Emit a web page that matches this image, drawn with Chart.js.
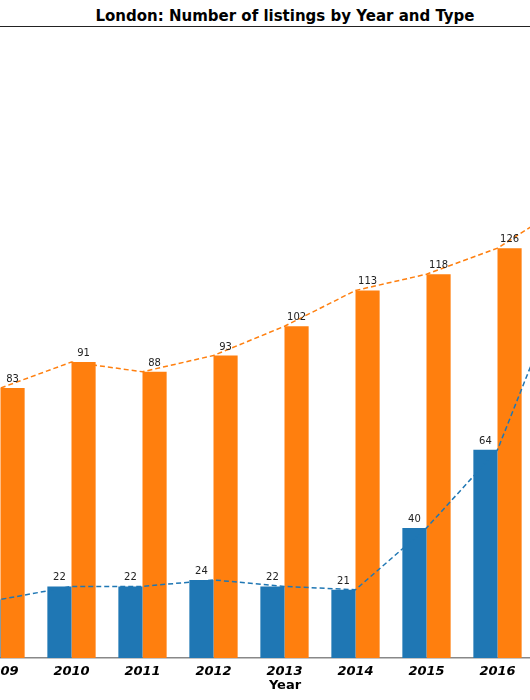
<!DOCTYPE html>
<html><head><script src="https://cdn.jsdelivr.net/npm/chart.js@4"></script>
<style>body{margin:0;width:530px;height:700px;overflow:hidden;position:relative;background:#fff;font-family:"DejaVu Sans"}
#t{position:absolute;top:7px;left:0;width:570px;text-align:center;font-weight:bold;font-size:15px}
#line{position:absolute;top:26px;left:0;width:530px;height:1px;background:#222}
#x{position:absolute;top:677px;left:0;width:570px;text-align:center;font-weight:bold;font-size:13px}
#w{position:absolute;left:-106px;top:27px;width:710px;height:673px}</style></head>
<body><div id="t">London: Number of listings by Year and Type</div><div id="line"></div>
<div id="w"><canvas id="c"></canvas></div><div id="x">Year</div>
<script>
const years=['2008','2009','2010','2011','2012','2013','2014','2015','2016','2017'];
const blue=[17,18,22,22,24,22,21,40,64,119];
const orange=[80,83,91,88,93,102,113,118,126,140];
const B='#1f77b4',O='#ff7f0e';
const lbl={id:'lbl',afterDatasetsDraw(ch){const c=ch.ctx;c.save();c.font='10px DejaVu Sans';c.fillStyle='#222';c.textAlign='center';
[0,1].forEach(i=>{ch.getDatasetMeta(i).data.forEach((e,j)=>{c.fillText(ch.data.datasets[i].data[j],e.x,e.y-6)})});c.restore();}};
new Chart(document.getElementById('c'),{data:{labels:years,datasets:[
{type:'bar',data:blue,backgroundColor:B,categoryPercentage:0.68,barPercentage:1,order:2},
{type:'bar',data:orange,backgroundColor:O,categoryPercentage:0.68,barPercentage:1,order:2},
{type:'line',data:blue,borderColor:B,borderDash:[5,3],borderWidth:1.5,pointRadius:0,order:1},
{type:'line',data:orange,borderColor:O,borderDash:[5,3],borderWidth:1.5,pointRadius:0,order:1}]},
options:{animation:false,responsive:true,maintainAspectRatio:false,layout:{padding:0},
plugins:{legend:{display:false},tooltip:{enabled:false}},
scales:{y:{display:false,min:0,max:194},
x:{grid:{display:false,drawTicks:true,tickLength:4},border:{color:'#888',width:1.5},
ticks:{color:'#000',font:{family:'DejaVu Sans',size:13,weight:'bold',style:'italic'},padding:2},
afterFit(s){s.height=42}}}},plugins:[lbl]});
</script></body></html>
